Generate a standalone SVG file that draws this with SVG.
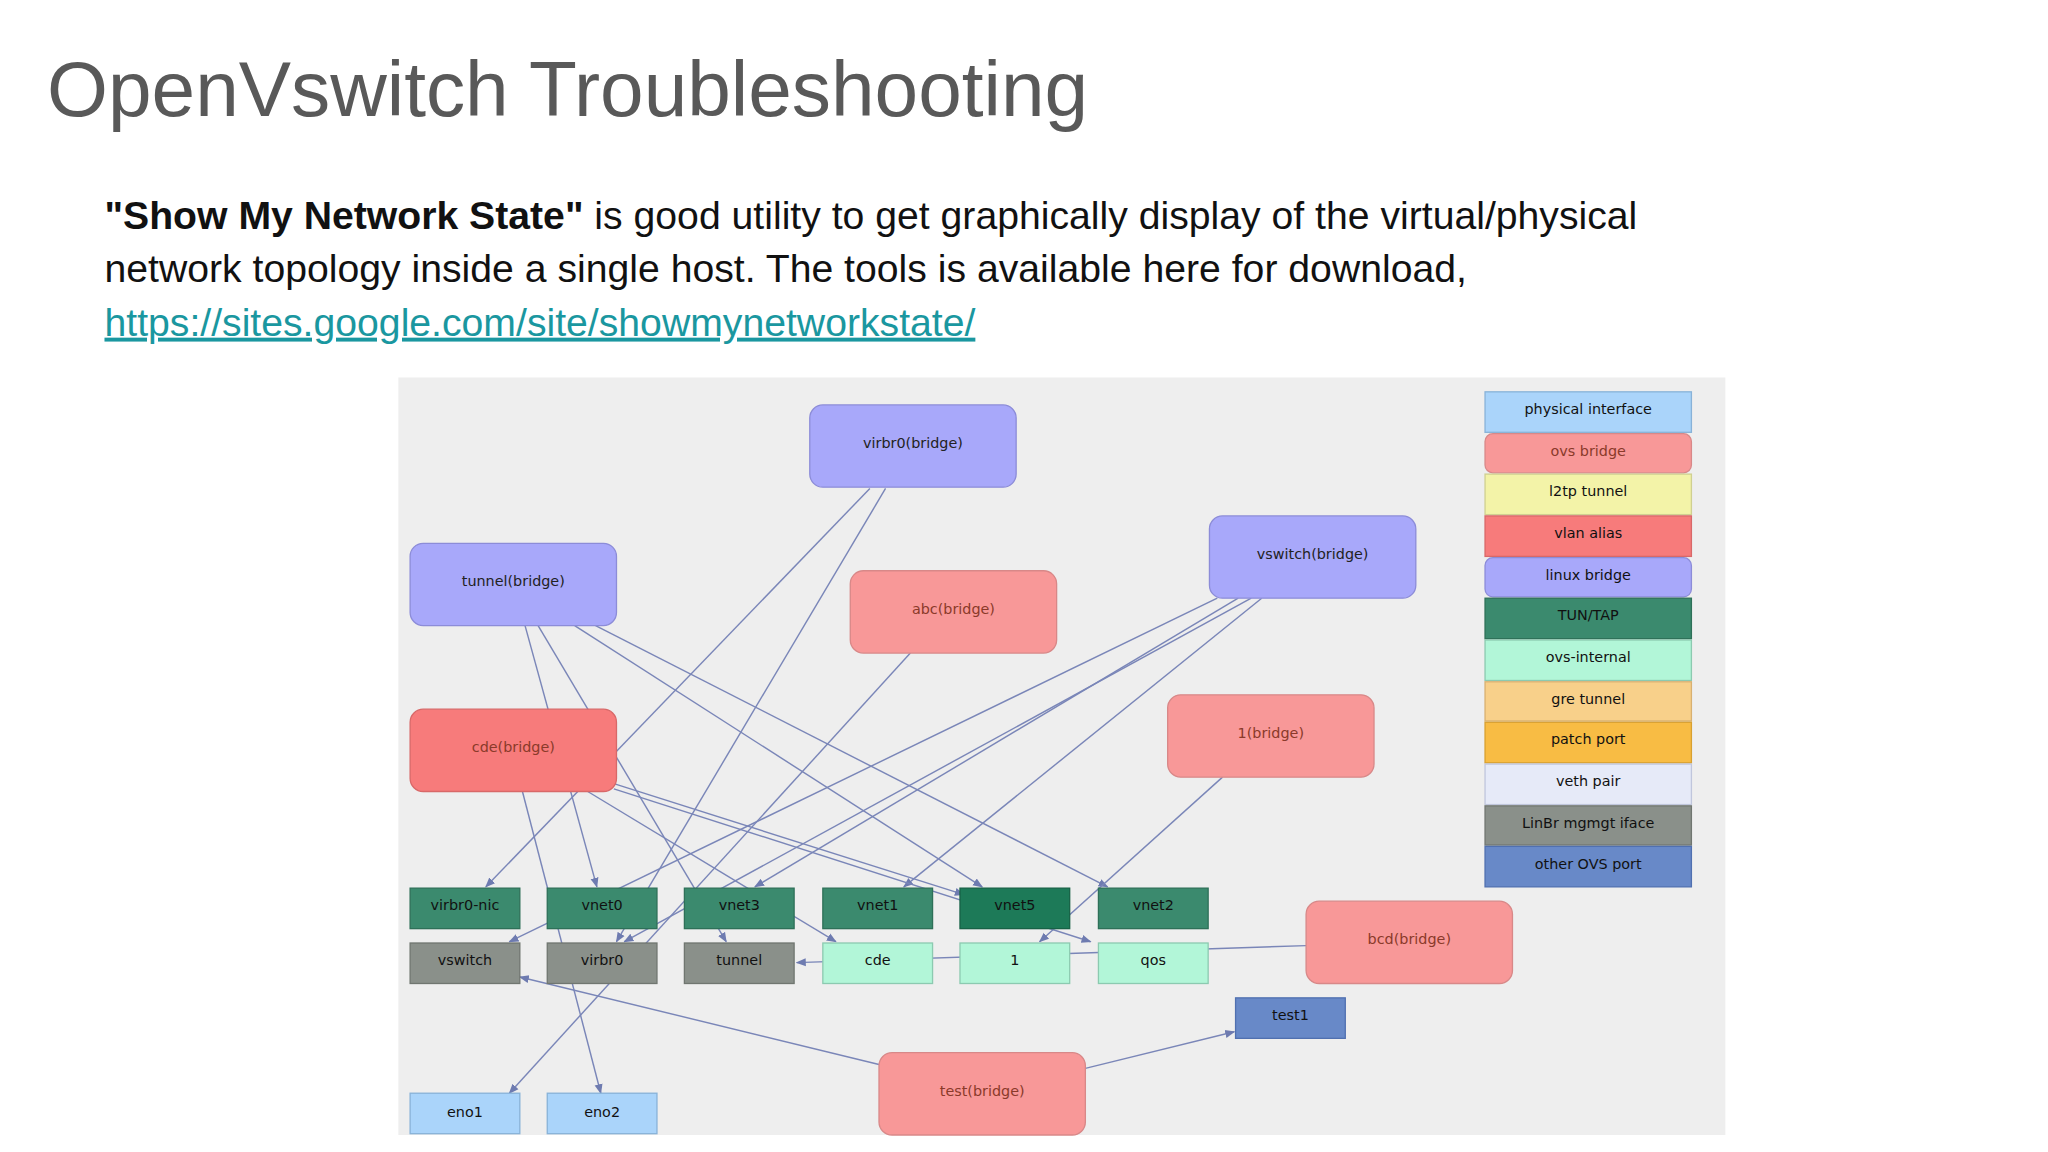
<svg xmlns="http://www.w3.org/2000/svg" width="2048" height="1152" viewBox="0 0 2048 1152">
<defs>
<marker id="ah" viewBox="0 0 10 10" refX="9" refY="5" markerWidth="7" markerHeight="7" orient="auto"><path d="M0,1 L10,5 L0,9 z" fill="#6e7bb0"/></marker>
<style>
.t{font-family:"Liberation Sans",Arial,sans-serif}
.n{font-family:"DejaVu Sans",sans-serif;font-size:11px;text-anchor:middle}
.lb{fill:#a8a8fa;stroke:#8c8cd8}
.ovs{fill:#f89898;stroke:#d88888}
.vl{fill:#f77b7b;stroke:#d86868}
.tap{fill:#3b8a6e;stroke:#2e7058}
.gr{fill:#8a908a;stroke:#707670}
.oi{fill:#b2f6d8;stroke:#8ccab0}
.ph{fill:#aad4fa;stroke:#88b2d8}
.e line{stroke:#7a86b8;stroke-width:1.1;marker-end:url(#ah)}
</style>
</defs>
<rect width="2048" height="1152" fill="#fff"/>
<g transform="scale(1.3061)">
<text class="t" x="36" y="89" font-size="60" fill="#595959">OpenVswitch Troubleshooting</text>
<text class="t" x="80" y="175" font-size="30" fill="#111"><tspan font-weight="bold">"Show My Network State"</tspan>  is good utility to get graphically display of the virtual/physical</text>
<text class="t" x="80" y="216" font-size="30" fill="#111">network topology inside a single host. The tools is available here for download,</text>
<text class="t" x="80" y="257" font-size="30" fill="#1a97a0" text-decoration="underline">https://sites.google.com/site/showmynetworkstate/</text>
<rect x="305" y="289" width="1016" height="580" fill="#eeeeee"/>

<g class="e">
<line x1="666" y1="374" x2="372" y2="679"/>
<line x1="678" y1="374" x2="472" y2="721"/>
<line x1="402" y1="479" x2="457" y2="679"/>
<line x1="412" y1="479" x2="556" y2="721"/>
<line x1="440" y1="479" x2="752" y2="679"/>
<line x1="456" y1="479" x2="848" y2="679"/>
<line x1="697" y1="500" x2="390" y2="837"/>
<line x1="932" y1="458" x2="390" y2="721"/>
<line x1="948" y1="458" x2="578" y2="679"/>
<line x1="958" y1="458" x2="478" y2="721"/>
<line x1="966" y1="458" x2="692" y2="679"/>
<line x1="400" y1="606" x2="460" y2="837"/>
<line x1="450" y1="606" x2="640" y2="721"/>
<line x1="470" y1="600" x2="738" y2="685"/>
<line x1="470" y1="604" x2="835" y2="721"/>
<line x1="936" y1="595" x2="796" y2="721"/>
<line x1="1000" y1="724" x2="610" y2="737"/>
<line x1="673" y1="815" x2="398" y2="748"/>
<line x1="831" y1="818" x2="945" y2="790"/>
</g>

<g id="virbr0-bridge"><rect class="lb" x="620" y="310" width="158" height="63" rx="10"/><text class="n" x="699" y="343" fill="#222">virbr0(bridge)</text></g>
<g id="tunnel-bridge"><rect class="lb" x="314" y="416" width="158" height="63" rx="10"/><text class="n" x="393" y="449" fill="#222">tunnel(bridge)</text></g>
<g id="abc-bridge"><rect class="ovs" x="651" y="437" width="158" height="63" rx="10"/><text class="n" x="730" y="470" fill="#8a3a2a">abc(bridge)</text></g>
<g id="vswitch-bridge"><rect class="lb" x="926" y="395" width="158" height="63" rx="10"/><text class="n" x="1005" y="428" fill="#222">vswitch(bridge)</text></g>
<g id="cde-bridge"><rect class="vl" x="314" y="543" width="158" height="63" rx="10"/><text class="n" x="393" y="576" fill="#8a3a2a">cde(bridge)</text></g>
<g id="one-bridge"><rect class="ovs" x="894" y="532" width="158" height="63" rx="10"/><text class="n" x="973" y="565" fill="#8a3a2a">1(bridge)</text></g>
<g id="bcd-bridge"><rect class="ovs" x="1000" y="690" width="158" height="63" rx="10"/><text class="n" x="1079" y="723" fill="#8a3a2a">bcd(bridge)</text></g>
<g id="test-bridge"><rect class="ovs" x="673" y="806" width="158" height="63" rx="10"/><text class="n" x="752" y="839" fill="#8a3a2a">test(bridge)</text></g>

<g id="virbr0-nic"><rect class="tap" x="314" y="680" width="84" height="31"/><text class="n" x="356" y="697" fill="#111">virbr0-nic</text></g>
<g id="vnet0"><rect class="tap" x="419" y="680" width="84" height="31"/><text class="n" x="461" y="697" fill="#111">vnet0</text></g>
<g id="vnet3"><rect class="tap" x="524" y="680" width="84" height="31"/><text class="n" x="566" y="697" fill="#111">vnet3</text></g>
<g id="vnet1"><rect class="tap" x="630" y="680" width="84" height="31"/><text class="n" x="672" y="697" fill="#111">vnet1</text></g>
<g id="vnet5"><rect x="735" y="680" width="84" height="31" fill="#1d7a58" stroke="#176246"/><text class="n" x="777" y="697" fill="#111">vnet5</text></g>
<g id="vnet2"><rect class="tap" x="841" y="680" width="84" height="31"/><text class="n" x="883" y="697" fill="#111">vnet2</text></g>

<g id="vswitch"><rect class="gr" x="314" y="722" width="84" height="31"/><text class="n" x="356" y="739" fill="#111">vswitch</text></g>
<g id="virbr0"><rect class="gr" x="419" y="722" width="84" height="31"/><text class="n" x="461" y="739" fill="#111">virbr0</text></g>
<g id="tunnel"><rect class="gr" x="524" y="722" width="84" height="31"/><text class="n" x="566" y="739" fill="#111">tunnel</text></g>
<g id="cde"><rect class="oi" x="630" y="722" width="84" height="31"/><text class="n" x="672" y="739" fill="#111">cde</text></g>
<g id="one"><rect class="oi" x="735" y="722" width="84" height="31"/><text class="n" x="777" y="739" fill="#111">1</text></g>
<g id="qos"><rect class="oi" x="841" y="722" width="84" height="31"/><text class="n" x="883" y="739" fill="#111">qos</text></g>

<g id="test1"><rect x="946" y="764" width="84" height="31" fill="#6889c8" stroke="#5070b0"/><text class="n" x="988" y="781" fill="#111">test1</text></g>
<g id="eno1"><rect class="ph" x="314" y="837" width="84" height="31"/><text class="n" x="356" y="855" fill="#111">eno1</text></g>
<g id="eno2"><rect class="ph" x="419" y="837" width="84" height="31"/><text class="n" x="461" y="855" fill="#111">eno2</text></g>

<g id="legend">
<rect x="1137" y="300" width="158" height="31" fill="#aad4fa" stroke="#88b2d8"/><text class="n" x="1216" y="317" fill="#111">physical interface</text>
<rect x="1137" y="332" width="158" height="30" rx="6" fill="#f89898" stroke="#d88888"/><text class="n" x="1216" y="349" fill="#8a3a2a">ovs bridge</text>
<rect x="1137" y="363" width="158" height="31" fill="#f3f3a8" stroke="#d0d090"/><text class="n" x="1216" y="380" fill="#111">l2tp tunnel</text>
<rect x="1137" y="395" width="158" height="31" fill="#f77b7b" stroke="#d86868"/><text class="n" x="1216" y="412" fill="#111">vlan alias</text>
<rect x="1137" y="427" width="158" height="30" rx="6" fill="#a8a8fa" stroke="#8c8cd8"/><text class="n" x="1216" y="444" fill="#111">linux bridge</text>
<rect x="1137" y="458" width="158" height="31" fill="#3b8a6e" stroke="#2e7058"/><text class="n" x="1216" y="475" fill="#111">TUN/TAP</text>
<rect x="1137" y="490" width="158" height="31" fill="#b2f6d8" stroke="#8ccab0"/><text class="n" x="1216" y="507" fill="#111">ovs-internal</text>
<rect x="1137" y="522" width="158" height="30" fill="#f8d08a" stroke="#d8b070"/><text class="n" x="1216" y="539" fill="#111">gre tunnel</text>
<rect x="1137" y="553" width="158" height="31" fill="#f8bc44" stroke="#d8a030"/><text class="n" x="1216" y="570" fill="#111">patch port</text>
<rect x="1137" y="585" width="158" height="31" fill="#e6eaf8" stroke="#c0c6dc"/><text class="n" x="1216" y="602" fill="#111">veth pair</text>
<rect x="1137" y="617" width="158" height="30" fill="#8a908a" stroke="#707670"/><text class="n" x="1216" y="634" fill="#111">LinBr mgmgt iface</text>
<rect x="1137" y="648" width="158" height="31" fill="#6889c8" stroke="#5070b0"/><text class="n" x="1216" y="665" fill="#111">other OVS port</text>
</g>
</g>
</svg>
